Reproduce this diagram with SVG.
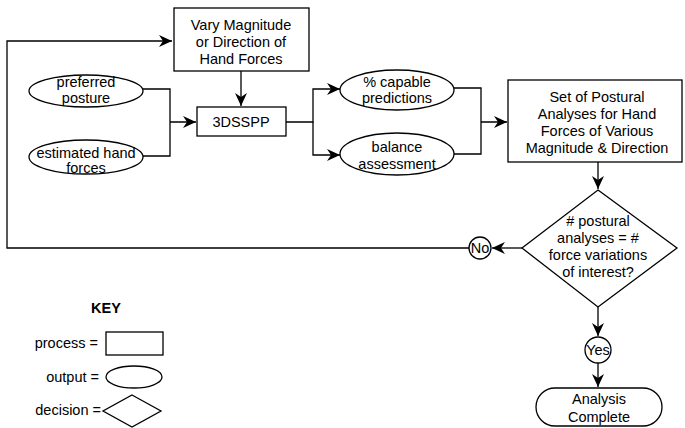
<svg xmlns="http://www.w3.org/2000/svg" width="685" height="428" viewBox="0 0 685 428">
<style>
.s{fill:#fff;stroke:#000;stroke-width:1.3}
.c{fill:none;stroke:#000;stroke-width:1.3}
text{font-family:"Liberation Sans",Arial,sans-serif;font-size:14.5px;fill:#000;text-anchor:middle}
.k{text-anchor:end}
</style>
<defs>
<marker id="a" markerUnits="userSpaceOnUse" markerWidth="14" markerHeight="12" refX="13" refY="6" orient="auto">
<path d="M0,0 L13,6 L0,12 L4,6 z" fill="#000"/>
</marker>
</defs>
<g id="connectors">
<path class="c" d="M469,248 H7 V41 H172" marker-end="url(#a)"/>
<path class="c" d="M241,71 V106" marker-end="url(#a)"/>
<path class="c" d="M143,89 H170 V156 H143 M170,122 H196" marker-end="url(#a)"/>
<path class="c" d="M286,122 H313 V89 H340" marker-end="url(#a)"/>
<path class="c" d="M313,122 V155 H340" marker-end="url(#a)"/>
<path class="c" d="M454,88 H481 V154 H454 M481,122 H507" marker-end="url(#a)"/>
<path class="c" d="M598,162 V189" marker-end="url(#a)"/>
<path class="c" d="M522,248 H492" marker-end="url(#a)"/>
<path class="c" d="M598,307 V336" marker-end="url(#a)"/>
<path class="c" d="M598,363 V387" marker-end="url(#a)"/>
</g>
<g id="vary">
<rect class="s" x="174" y="8" width="135" height="63"/>
<text x="241" y="30">Vary Magnitude</text>
<text x="241" y="47">or Direction of</text>
<text x="241" y="64">Hand Forces</text>
</g>
<g id="preferred">
<ellipse class="s" cx="86" cy="91" rx="57" ry="16"/>
<text x="86" y="87">preferred</text>
<text x="86" y="103">posture</text>
</g>
<g id="estimated">
<ellipse class="s" cx="86" cy="157" rx="57" ry="17"/>
<text x="86" y="158">estimated hand</text>
<text x="86" y="173">forces</text>
</g>
<g id="sspp">
<rect class="s" x="197" y="107" width="89" height="29"/>
<text x="241" y="127">3DSSPP</text>
</g>
<g id="capable">
<ellipse class="s" cx="397" cy="90" rx="57" ry="20"/>
<text x="397" y="87">% capable</text>
<text x="397" y="103">predictions</text>
</g>
<g id="balance">
<ellipse class="s" cx="397" cy="154" rx="57" ry="21"/>
<text x="397" y="152">balance</text>
<text x="397" y="169">assessment</text>
</g>
<g id="set">
<rect class="s" x="508" y="80" width="174" height="82"/>
<text x="597" y="102">Set of Postural</text>
<text x="597" y="119">Analyses for Hand</text>
<text x="597" y="136">Forces of Various</text>
<text x="597" y="153">Magnitude &amp; Direction</text>
</g>
<g id="decision">
<path class="s" d="M598,190 L677,248 L598,307 L522,248 z"/>
<text x="598" y="226"># postural</text>
<text x="598" y="243">analyses = #</text>
<text x="598" y="260">force variations</text>
<text x="598" y="277">of interest?</text>
</g>
<g id="no">
<circle class="s" cx="480" cy="248" r="11"/>
<text x="480" y="253">No</text>
</g>
<g id="yes">
<circle class="s" cx="598" cy="350" r="13"/>
<text x="598" y="355">Yes</text>
</g>
<g id="complete">
<rect class="s" x="536" y="388" width="126" height="38" rx="19"/>
<text x="599" y="404">Analysis</text>
<text x="599" y="422">Complete</text>
</g>
<g id="key">
<text x="106" y="313" style="font-weight:bold">KEY</text>
<text class="k" x="98" y="348">process =</text>
<rect class="s" x="106" y="332" width="57" height="23"/>
<text class="k" x="99" y="382">output  =</text>
<ellipse class="s" cx="134" cy="377" rx="28" ry="11"/>
<text class="k" x="101" y="415">decision =</text>
<path class="s" d="M132,395 L161,411 L132,427 L103,411 z"/>
</g>
</svg>
